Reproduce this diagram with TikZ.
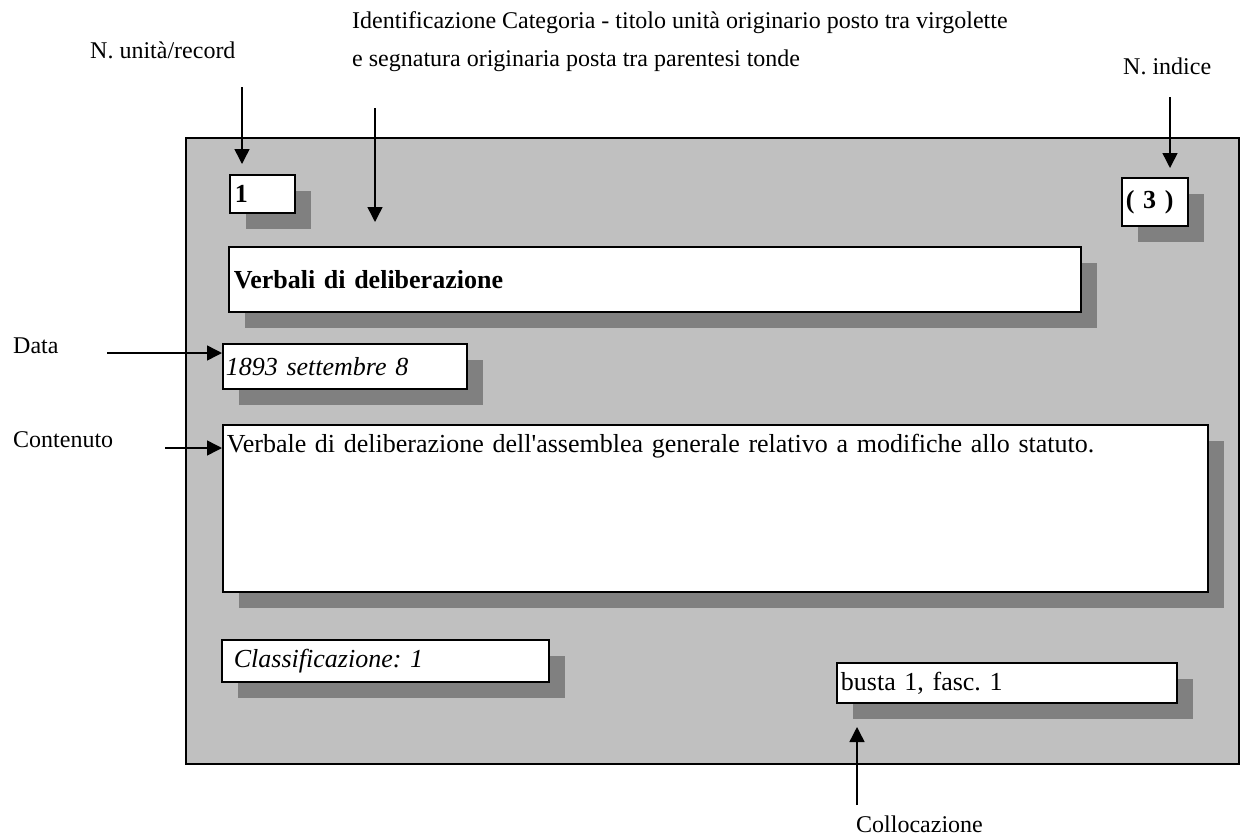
\documentclass[tikz,border=0pt]{standalone}
\usepackage{fontspec}
\setmainfont{Liberation Serif}
\usetikzlibrary{arrows.meta,shadows}
\definecolor{panelgray}{HTML}{C0C0C0}
\definecolor{shadowgray}{HTML}{808080}
\begin{document}
\frenchspacing
\begin{tikzpicture}[x=1pt,y=-1pt,
  panelstyle/.style={draw=black, line width=1.8pt, fill=panelgray, anchor=north west, inner sep=0pt},
  boxstyle/.style={draw=black, line width=1.8pt, fill=white, anchor=north west,
    inner ysep=0pt, inner xsep=5pt, text width=#1, align=left,
    font=\fontsize{26}{30}\selectfont\frenchspacing,
    drop shadow={shadow xshift=16pt, shadow yshift=-16pt, fill=shadowgray, opacity=1, draw=none}},
  lbl/.style={anchor=base west, inner sep=0pt, font=\fontsize{24}{28}\selectfont\frenchspacing},
  arr/.style={line width=1.5pt, -{Triangle[length=15pt,width=15pt]}}]
\useasboundingbox (0,0) rectangle (1241,838);

% panel
\node[panelstyle, minimum width=1053pt, minimum height=626pt] (panel) at (185,137) {};

% boxes
\node[boxstyle=55pt, minimum height=38pt] (bNum) at (229,174) {\bfseries 1};
\node[boxstyle=58pt, minimum height=48pt, inner xsep=4pt] (bInd) at (1121,177) {\bfseries ( 3 )};
\node[boxstyle=842pt, minimum height=65pt] (bTitle) at (228,246) {\bfseries Verbali di deliberazione};
\node[boxstyle=238pt, minimum height=45pt, inner xsep=3pt] (bDate) at (222,343) {\itshape 1893 settembre 8};
\node[boxstyle=977pt, text height=28pt, text depth=139pt, inner xsep=4pt] (bCont) at (222,424) {Verbale di deliberazione dell\textquotesingle assemblea generale relativo a modifiche allo statuto.};
\node[boxstyle=317pt, minimum height=42pt] (bClass) at (221,639) {\itshape\hspace*{7pt}Classificazione: 1};
\node[boxstyle=332pt, minimum height=40pt, inner xsep=4pt] (bColl) at (836,662) {busta 1, fasc. 1};

% labels
\node[lbl] (lRecord) at (90,58) {N. unità/record};
\node[lbl] (lIdentA) at (352,28) {Identificazione Categoria - titolo unità originario posto tra virgolette};
\node[lbl] (lIdentB) at (352,66) {e segnatura originaria posta tra parentesi tonde};
\node[lbl] (lIndice) at (1123,74) {N. indice};
\node[lbl] (lData) at (13,353) {Data};
\node[lbl] (lCont) at (13,447) {Contenuto};
\node[lbl] (lColl) at (856,832) {Collocazione};

% arrows
\coordinate (aRecS) at (242,87);
\coordinate (aRecE) at (242,164);
\draw[arr] (aRecS) -- (aRecE);
\coordinate (aIdS) at (375,108);
\coordinate (aIdE) at (375,222);
\draw[arr] (aIdS) -- (aIdE);
\coordinate (aIndS) at (1170,97);
\coordinate (aIndE) at (1170,168);
\draw[arr] (aIndS) -- (aIndE);
\coordinate (aDataS) at (107,353);
\draw[arr] (aDataS) -- (aDataS -| bDate.west);
\coordinate (aContS) at (165,448);
\draw[arr] (aContS) -- (aContS -| bCont.west);
\coordinate (aCollS) at (857,805);
\coordinate (aCollE) at (857,727);
\draw[arr] (aCollS) -- (aCollE);
\end{tikzpicture}
\end{document}
